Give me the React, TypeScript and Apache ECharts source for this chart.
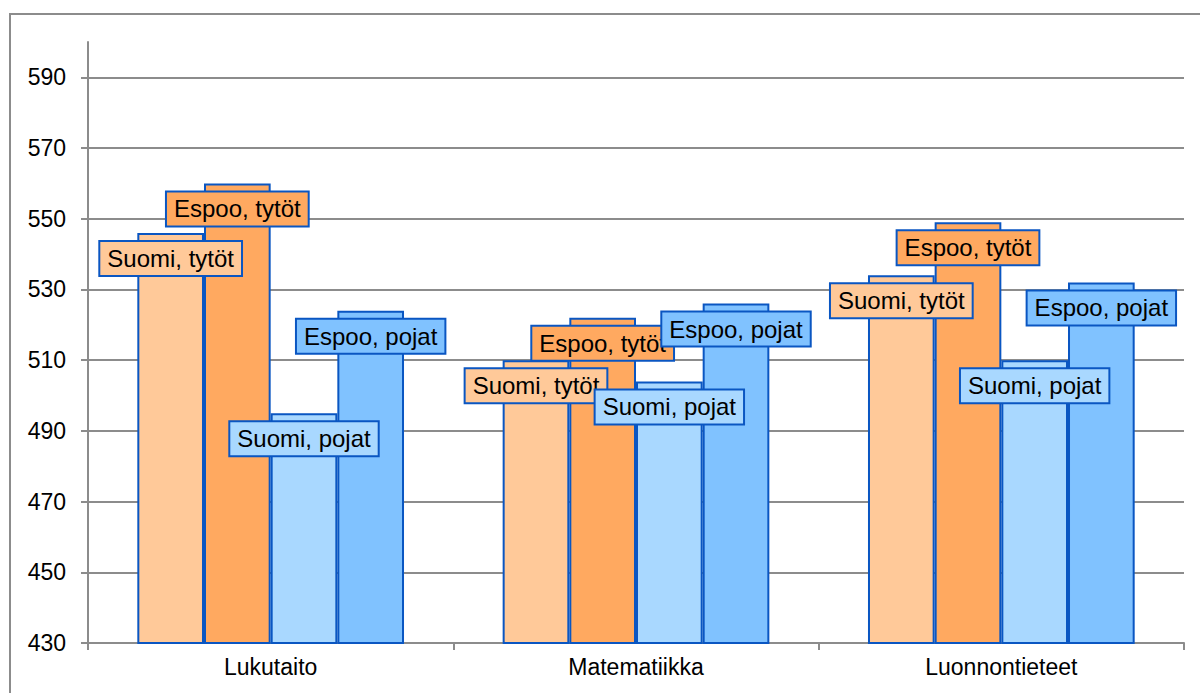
import React, { useEffect, useRef } from "react";
import * as echarts from "echarts";

const categories = ["Lukutaito", "Matematiikka", "Luonnontieteet"];
const seriesNames = ["Suomi, tytöt", "Espoo, tytöt", "Suomi, pojat", "Espoo, pojat"];
const suomiTytot = [546, 510, 534];
const espooTytot = [560, 522, 549];
const suomiPojat = [495, 504, 510];
const espooPojat = [524, 526, 532];
const yTicks = [430, 450, 470, 490, 510, 530, 550, 570, 590];

const colors = ["#FFC999", "#FFA960", "#A9D8FF", "#80C2FF"];
const borderBlue = "#0A56C2";
const grey = "#8C8C8C";
const font = "'Liberation Sans', Arial, sans-serif";

export default function App() {
  const ref = useRef<HTMLDivElement>(null);
  useEffect(() => {
    if (!ref.current) return;
    const chart = echarts.init(ref.current, undefined, { renderer: "svg" });
    const data = [suomiTytot, espooTytot, suomiPojat, espooPojat];
    chart.setOption({
      animation: false,
      backgroundColor: "#ffffff",
      textStyle: { fontFamily: font },
      graphic: [
        {
          type: "rect",
          shape: { x: 10, y: 14, width: 1210, height: 700 },
          style: { fill: "none", stroke: grey, lineWidth: 2 },
          z: -1,
          silent: true,
        },
      ],
      grid: { left: 88, right: 16, top: 42, bottom: 50, containLabel: false },
      xAxis: {
        type: "category",
        data: categories,
        axisLine: { show: true, lineStyle: { color: grey, width: 2 } },
        axisTick: { show: true, length: 7, lineStyle: { color: grey, width: 2 } },
        axisLabel: { color: "#000", fontSize: 23, fontFamily: font, margin: 12 },
        splitLine: { show: false },
      },
      yAxis: {
        type: "value",
        min: 430,
        max: 600,
        interval: 10,
        axisLine: { show: true, lineStyle: { color: grey, width: 2 } },
        axisTick: { show: true, length: 7, customValues: yTicks, lineStyle: { color: grey, width: 2 } },
        axisLabel: { color: "#000", fontSize: 23, fontFamily: font, margin: 22, customValues: yTicks },
        splitLine: { show: true, lineStyle: { color: grey, width: 2 } },
      },
      series: seriesNames.map((name, i) => ({
        name,
        type: "bar",
        data: data[i],
        barGap: "0%",
        barCategoryGap: "27%",
        itemStyle: { color: colors[i], borderColor: borderBlue, borderWidth: 2 },
        label: {
          show: true,
          position: "insideTop",
          distance: 9,
          formatter: name,
          color: "#000",
          fontSize: 24,
          fontFamily: font,
          lineHeight: 27,
          backgroundColor: colors[i],
          borderColor: borderBlue,
          borderWidth: 2,
          padding: [3, 7],
        },
      })),
    });
    return () => chart.dispose();
  }, []);
  return (
    <div
      ref={ref}
      style={{ position: "fixed", left: 0, top: 0, width: 1200, height: 693 }}
    />
  );
}
